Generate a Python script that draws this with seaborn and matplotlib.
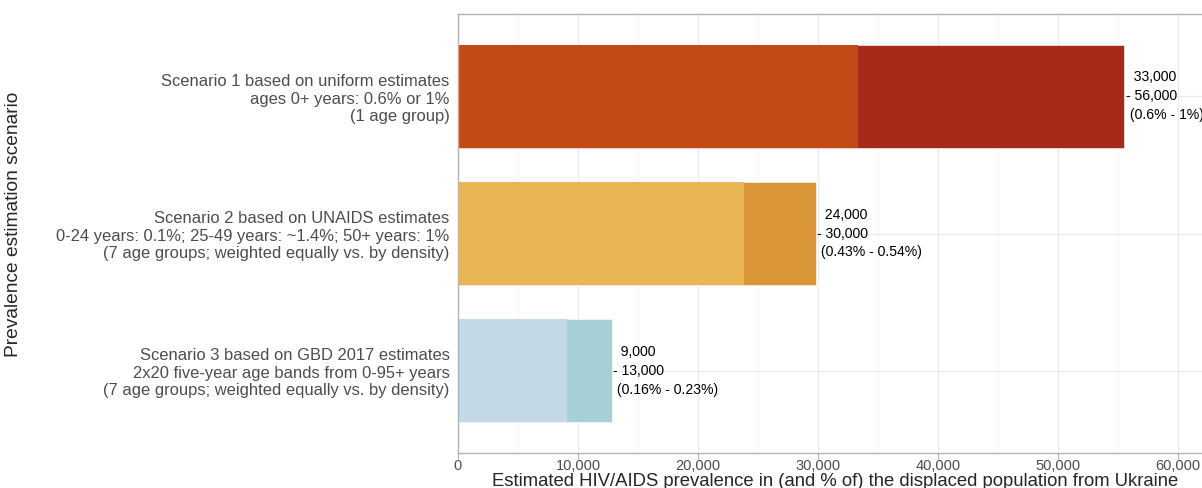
import pandas as pd
import seaborn as sns
import matplotlib.pyplot as plt
from matplotlib.ticker import MultipleLocator, FuncFormatter

# data
scenarios = [
    'Scenario 1 based on uniform estimates\nages 0+ years: 0.6% or 1%\n(1 age group)',
    'Scenario 2 based on UNAIDS estimates\n0-24 years: 0.1%; 25-49 years: ~1.4%; 50+ years: 1%\n(7 age groups; weighted equally vs. by density)',
    'Scenario 3 based on GBD 2017 estimates\n2x20 five-year age bands from 0-95+ years\n(7 age groups; weighted equally vs. by density)',
]
low = [33300, 23800, 9100]
high = [55500, 29800, 12800]
low_lab = ['33,000', '24,000', '9,000']
high_lab = ['56,000', '30,000', '13,000']
pct_lab = ['(0.6% - 1%)', '(0.43% - 0.54%)', '(0.16% - 0.23%)']

low_cols = ['#C24A16', '#E8B654', '#C3DAE6']
high_cols = ['#A52A19', '#DA9536', '#A7CFD6']

df = pd.DataFrame({'scenario': scenarios, 'low': low, 'high': high})

sns.set_style('white')
plt.rcParams['font.family'] = ['Liberation Sans', 'DejaVu Sans']

fig = plt.figure(figsize=(12.02, 4.88), dpi=100)
ax = fig.add_axes([458 / 1202, 35 / 488, 1 - 458 / 1202, (453 - 14) / 488])

# upper estimate behind, lower estimate on top
sns.barplot(data=df, x='high', y='scenario', hue='scenario', palette=high_cols,
            width=0.75, legend=False, ax=ax, saturation=1,
            edgecolor='white', linewidth=0.4)
sns.barplot(data=df, x='low', y='scenario', hue='scenario', palette=low_cols,
            width=0.75, legend=False, ax=ax, saturation=1, linewidth=0)

for i in range(len(scenarios)):
    ax.text(high[i] + 150, i,
            '  ' + low_lab[i] + '\n- ' + high_lab[i] + '\n ' + pct_lab[i],
            ha='left', va='center', fontsize=10.1, color='black', linespacing=1.45)

ax.set_xlim(0, 62000)
ax.set_ylim(2.6, -0.6)
ax.xaxis.set_major_locator(MultipleLocator(10000))
ax.xaxis.set_minor_locator(MultipleLocator(5000))
ax.xaxis.set_major_formatter(FuncFormatter(lambda v, p: f'{int(v):,}'))

ax.grid(True, which='major', color='#EBEBEB', linewidth=0.8)
ax.grid(True, which='minor', axis='x', color='#F5F5F5', linewidth=0.6)
ax.set_axisbelow(True)

for s in ['top', 'left', 'bottom']:
    ax.spines[s].set_color('#B3B3B3')
    ax.spines[s].set_linewidth(1)
ax.spines['right'].set_visible(False)

ax.tick_params(axis='y', length=4, color='#B3B3B3', labelsize=11.9,
               labelcolor='#4D4D4D', pad=2)
ax.tick_params(axis='x', which='major', length=4, color='#B3B3B3', labelsize=10.5,
               labelcolor='#4D4D4D', pad=0, bottom=True)
ax.tick_params(axis='x', which='minor', length=0)
for t in ax.get_yticklabels():
    t.set_linespacing(1.2)

ax.set_xlabel('Estimated HIV/AIDS prevalence in (and % of) the displaced population from Ukraine',
              fontsize=13.3)
ax.xaxis.set_label_coords(((494 + 1176) / 2 - 458) / (1202 - 458),
                          -(486 - 453) / (453 - 14))
ax.xaxis.label.set_va('baseline')
ax.set_ylabel('Prevalence estimation scenario', fontsize=13.8)
ax.yaxis.set_label_coords(-(458 - 22) / (1202 - 458), 0.52)

fig.savefig('out.png', dpi=100)
